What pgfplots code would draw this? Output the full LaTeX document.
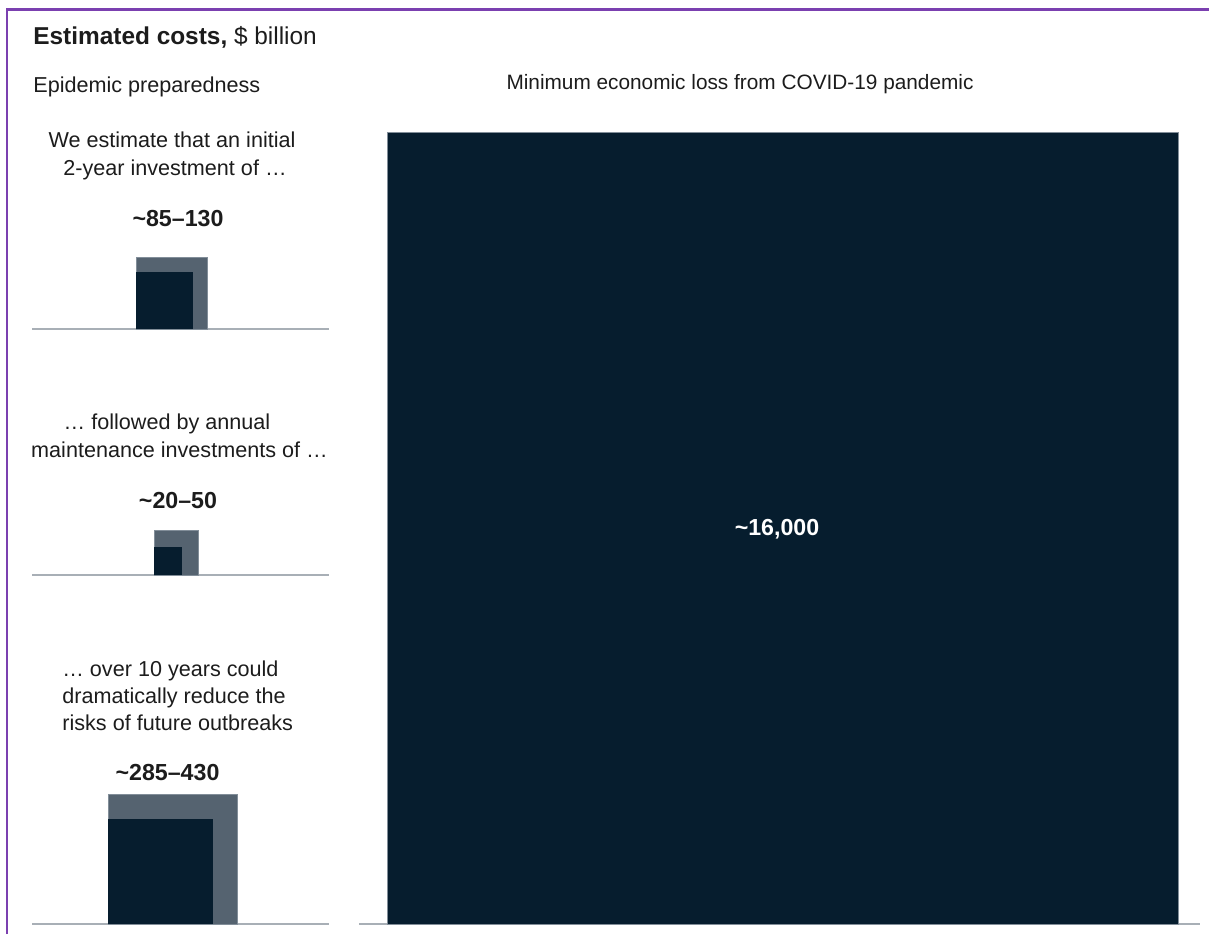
\documentclass[border=0pt]{standalone}
\usepackage{fontspec}
\setmainfont{Liberation Sans}
\usepackage{pgfplots}
\usepackage{pgfplotstable}
\pgfplotsset{compat=1.18}
\definecolor{navy}{RGB}{6,29,46}
\definecolor{slate}{RGB}{85,99,112}
\definecolor{edge}{RGB}{130,142,153}
\definecolor{base}{RGB}{168,175,182}
\definecolor{frame}{RGB}{123,64,176}
\definecolor{ink}{RGB}{28,28,28}

% unit square, scaled so that the square's area is proportional to the value
\pgfplotstableread{
u v
0 0
0 1
1 1
1 0
}\unitsq

\pgfplotsset{sqaxis/.style={anchor=south west, x=3.115pt, y=3.115pt,
  xmin=0, ymin=0, hide axis, clip=false, scale only axis}}

\newcommand{\sq}[3]{\addplot[fill=#2, draw=#3, line width=0.5pt]
  table[x expr=\thisrow{u}*sqrt(#1), y expr=\thisrow{v}*sqrt(#1)] {\unitsq} -- cycle;}

\newcommand{\body}{\fontsize{10.8}{13.5}\selectfont\color{ink}}
\newcommand{\num}{\fontsize{11.6}{13.5}\selectfont\bfseries\color{ink}}

\begin{document}
\begin{tikzpicture}
\begin{scope}[x=0.5pt,y=-0.5pt]
\useasboundingbox (0,0) rectangle (1209,934);
\coordinate (p1) at (136,329);
\coordinate (p2) at (154,575);
\coordinate (p3) at (108,924);
\coordinate (p4) at (387,924);
% frame
\draw[frame, line width=1.4pt] (7,934) -- (7,9.5) -- (1209,9.5);
% baselines
\draw[base, line width=1pt] (32,329) -- (329,329);
\draw[base, line width=1pt] (32,575) -- (329,575);
\draw[base, line width=1pt] (32,924) -- (329,924);
\draw[base, line width=1pt] (359,924) -- (1200,924);
% titles
\node[anchor=base west, inner sep=0pt] at (33,44) {\fontsize{12.2}{14}\selectfont\color{ink}\textbf{Estimated costs,} \$ billion};
\node[anchor=base west, inner sep=0pt] at (33,92) {\body Epidemic preparedness};
\node[anchor=base, inner sep=0pt] at (740,89) {\fontsize{10.4}{13.5}\selectfont\color{ink} Minimum economic loss from COVID-19 pandemic};
% panel 1
\node[anchor=base, inner sep=0pt] at (172,147) {\body We estimate that an initial};
\node[anchor=base, inner sep=0pt] at (175,175) {\body 2-year investment of …};
\node[anchor=base, inner sep=0pt] at (178,226) {\num \textasciitilde 85–130};
% panel 2
\node[anchor=base, inner sep=0pt] at (167,429) {\body … followed by annual};
\node[anchor=base, inner sep=0pt] at (179.5,457) {\body maintenance investments of …};
\node[anchor=base, inner sep=0pt] at (178,508) {\num \textasciitilde 20–50};
% panel 3
\node[anchor=base west, inner sep=0pt] at (62,676) {\body … over 10 years could};
\node[anchor=base west, inner sep=0pt] at (62,703) {\body dramatically reduce the};
\node[anchor=base west, inner sep=0pt] at (62,730) {\body risks of future outbreaks};
\node[anchor=base, inner sep=0pt] at (167.5,780) {\num \textasciitilde 285–430};
\end{scope}

\begin{axis}[sqaxis, at={(p1)}, xmax=12, ymax=12]
\sq{130}{slate}{edge}
\sq{85}{navy}{none}
\end{axis}

\begin{axis}[sqaxis, at={(p2)}, xmax=8, ymax=8]
\sq{50}{slate}{edge}
\sq{20}{navy}{none}
\end{axis}

\begin{axis}[sqaxis, at={(p3)}, xmax=21, ymax=21]
\sq{430}{slate}{edge}
\sq{285}{navy}{none}
\end{axis}

\begin{axis}[sqaxis, at={(p4)}, x=3.127pt, y=3.127pt, xmax=127, ymax=127]
\sq{16000}{navy}{edge}
\end{axis}

\begin{scope}[x=0.5pt,y=-0.5pt]
\node[anchor=base, inner sep=0pt] at (777,535) {\fontsize{11.6}{13.5}\selectfont\bfseries\color{white}\textasciitilde 16,000};
\end{scope}
\end{tikzpicture}
\end{document}
